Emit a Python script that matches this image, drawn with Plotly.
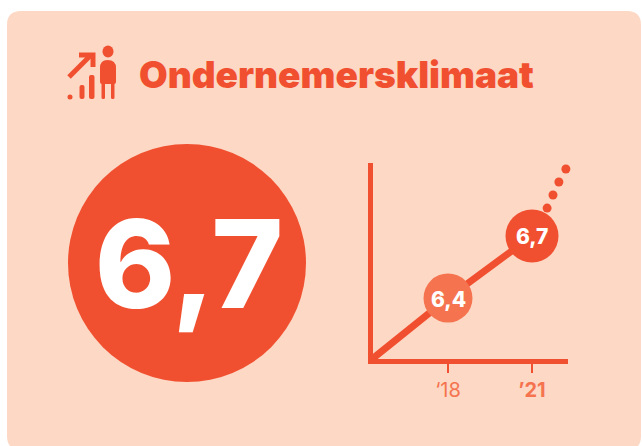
import plotly.graph_objects as go

W, H = 642, 446
ORANGE = "#F15030"
LIGHT = "#F5744F"
CARD = "#FCD8C5"

title = "Ondernemersklimaat"
kpi_label = "6,7"
years = [2018, 2021]
tick_labels = ["‘18", "<b>’21</b>"]
line_years = [2015.2, 2018, 2021]
line_scores = [6.095, 6.4, 6.7]
point_labels = ["6,4", "6,7"]
dot_years = [2021.54, 2021.75, 2021.96, 2022.21]
dot_scores = [6.835, 6.898, 6.961, 7.024]

FONT = "Inter"
NOLINE = dict(width=0)

fig = go.Figure()

# big KPI circle on the page-scaled base axes (x/y, drawn first)
fig.add_trace(go.Scatter(x=[187], y=[263], mode="markers",
                         marker=dict(color=ORANGE, size=238, opacity=1, line=NOLINE),
                         showlegend=False, hoverinfo="skip"))
fig.add_trace(go.Scatter(x=[189], y=[277], mode="text",
                         text=[kpi_label], textposition="middle center",
                         textfont=dict(family=FONT, size=122, color="white", weight=800),
                         showlegend=False, hoverinfo="skip"))

# chart: line, points and projected dots on x2/y2
common = dict(xaxis="x2", yaxis="y2", showlegend=False, cliponaxis=False)
fig.add_trace(go.Scatter(x=line_years, y=line_scores, mode="lines",
                         line=dict(color=ORANGE, width=7), hoverinfo="skip", **common))
fig.add_trace(go.Scatter(x=dot_years, y=dot_scores, mode="markers",
                         marker=dict(color=ORANGE, size=9, opacity=1, line=NOLINE), **common))
fig.add_trace(go.Scatter(x=years, y=line_scores[1:], mode="markers",
                         marker=dict(color=[LIGHT, ORANGE], size=[49, 53], opacity=1, line=NOLINE),
                         **common))


def rr(x0, y0, x1, y1, r):
    return (f"M{x0+r},{y0} L{x1-r},{y0} Q{x1},{y0} {x1},{y0+r} L{x1},{y1-r} Q{x1},{y1} {x1-r},{y1} "
            f"L{x0+r},{y1} Q{x0},{y1} {x0},{y1-r} L{x0},{y0+r} Q{x0},{y0} {x0+r},{y0} Z")


shapes = [dict(type="path", path=rr(7, 11, 641, 450, 14), xref="x", yref="y",
               fillcolor=CARD, line_width=0, layer="below")]


def fill(path):
    shapes.append(dict(type="path", path=path, xref="x", yref="y", fillcolor=ORANGE,
                       line_width=0, layer="below"))


def stroke(path, w=4):
    shapes.append(dict(type="path", path=path, xref="x", yref="y",
                       line=dict(color=ORANGE, width=w), layer="below"))


# icon: arrow
stroke("M69,77 L90,56", 5)
stroke("M79,55 L93,55 L93,67", 5)
# icon: bars
shapes.append(dict(type="circle", x0=67.5, y0=94.5, x1=72.5, y1=99.5, xref="x", yref="y",
                   fillcolor=ORANGE, line_width=0, layer="below"))
fill(rr(79.5, 85, 84.5, 99, 2))
fill(rr(89, 75, 94.5, 99, 2))
# icon: person
shapes.append(dict(type="circle", x0=102.5, y0=45.5, x1=113.5, y1=57.5, xref="x", yref="y",
                   fillcolor=ORANGE, line_width=0, layer="below"))
fill("M100,82 L100,68 Q100,60 107.5,60 Q116,60 116,68 L116,82 Q116,84 114,84 L102,84 Q100,84 100,82 Z")
fill(rr(101.5, 82, 105, 99, 1.5))
fill(rr(111, 82, 114.5, 99, 1.5))

annotations = [dict(text=title, x=137, y=74, xref="x", yref="y", xanchor="left",
                    yanchor="middle", showarrow=False,
                    font=dict(family=FONT, size=37, color=ORANGE, weight=900))]
for yr, score, label in zip(years, line_scores[1:], point_labels):
    annotations.append(dict(text=label, x=yr, y=score, xref="x2", yref="y2", showarrow=False,
                            yshift=-1, xanchor="center", yanchor="middle",
                            font=dict(family=FONT, size=21, color="white", weight=800)))

fig.update_layout(
    width=W, height=H, margin=dict(l=0, r=0, t=0, b=0),
    paper_bgcolor="white", plot_bgcolor="rgba(0,0,0,0)", shapes=shapes, annotations=annotations,
    xaxis=dict(domain=[0, 1], range=[0, W], visible=False),
    yaxis=dict(domain=[0, 1], range=[H, 0], visible=False),
    xaxis2=dict(domain=[373/W, 568/W], range=[2015.321, 2022.286], tickvals=years, ticktext=tick_labels,
                anchor="y2", showgrid=False, zeroline=False, showline=True, linecolor=ORANGE, linewidth=5,
                ticks="outside", ticklen=9, tickwidth=2, tickcolor=ORANGE,
                tickfont=dict(family=FONT, size=20, color=LIGHT)),
    yaxis2=dict(domain=[87/H, 283/H], range=[6.105, 7.053], showticklabels=False, ticks="", anchor="x2",
                showgrid=False, zeroline=False, showline=True, linecolor=ORANGE, linewidth=5),
)
fig.write_html("out.html", config=dict(displayModeBar=False),
               post_script="document.body.style.margin='0';window.dispatchEvent(new Event('resize'));")
